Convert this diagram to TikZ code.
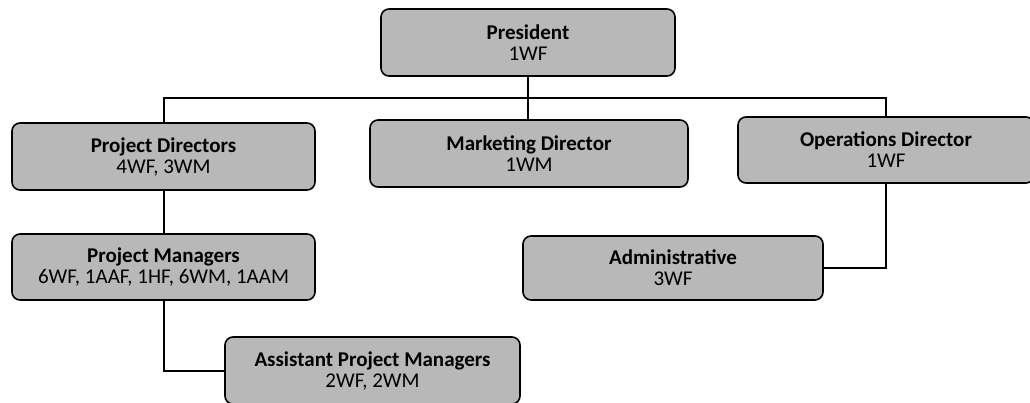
\documentclass[tikz,border=0pt]{standalone}
\usepackage{fontspec}
\setmainfont{Carlito}
\usepackage{tikz}
\usetikzlibrary{positioning,calc}
\tikzset{post/.style={draw,line width=1.6pt,rounded corners=8pt,fill=black!28,
                      align=center,inner sep=0pt,
                      font=\fontsize{21}{21}\selectfont},
         line/.style={line width=2pt}
}

\begin{document}
\begin{tikzpicture}[x=1pt,y=-1pt]
\useasboundingbox (0,0) rectangle (1030,402);

% top
\node [post,minimum width=294,minimum height=67] (pres) at (528,42.5) {\textbf{President}\\1WF};

% directors
\node [post,minimum width=303,minimum height=67] (pd) at (163.5,156.5) {\textbf{Project Directors}\\4WF, 3WM};
\node [post,minimum width=318,minimum height=67] (md) at (529,153.5) {\textbf{Marketing Director}\\1WM};
\node [post,minimum width=296,minimum height=66] (od) at (886,150) {\textbf{Operations Director}\\1WF};

% lower levels
\node [post,minimum width=303,minimum height=66] (pm) at (163.5,267) {\textbf{Project Managers}\\6WF, 1AAF, 1HF, 6WM, 1AAM};
\node [post,minimum width=300,minimum height=64] (adm) at (673,268) {\textbf{Administrative}\\3WF};
\node [post,minimum width=295,minimum height=67] (apm) at (372.5,370.5) {\textbf{Assistant Project Managers}\\2WF, 2WM};

% connectors
\coordinate (bus) at (528,98);
\draw [line] (pres.south) -- (bus);
\draw [line] (pd.north) |- (bus) -| (od.north);
\draw [line] (bus) -- (bus |- md.north);
\draw [line] (pd.south) -- (pm.north);
\draw [line] (pm.south) |- (apm.west);
\draw [line] (od.south) |- (adm.east);

\end{tikzpicture}
\end{document}
